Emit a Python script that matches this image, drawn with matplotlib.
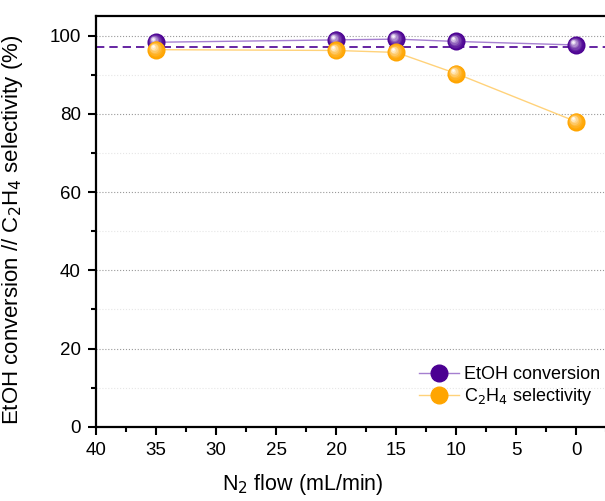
import numpy as np
import matplotlib.pyplot as plt
from matplotlib.ticker import MultipleLocator
from matplotlib.colors import to_rgb
from matplotlib.transforms import offset_copy

plt.rcParams['font.family'] = ['Liberation Sans', 'DejaVu Sans']

n2_flow = [35, 20, 15, 10, 0]
etoh_conv = [98.3, 98.9, 99.1, 98.5, 97.6]
c2h4_sel = [96.4, 96.2, 95.7, 90.3, 78.0]
ref_level = 97.2

purple = '#4b0092'
orange = '#ffa500'


def sphere(ax, x, y, color, size=13, z=5):
    # fake shaded ball: stack of shrinking, lightening discs shifted to the top-left
    base = np.array(to_rgb(color))
    steps = 8
    for i in range(steps):
        f = i / (steps - 1)
        c = base + (1 - base) * f ** 1.6 * 0.95
        s = size * (1 - 0.85 * f)
        dx, dy = -size * 0.18 * f, size * 0.18 * f
        tr = offset_copy(ax.transData, fig=ax.figure, x=dx, y=dy, units='points')
        ax.plot(x, y, 'o', ms=s, color=c, mec='none', transform=tr, zorder=z + i * 0.01)


fig = plt.figure(figsize=(6.05, 5.01), dpi=100)
ax = fig.add_axes([0.159, 0.148, 0.845, 0.82])

ax.axhline(ref_level, color=purple, ls='--', lw=1.2, dashes=(5, 3), zorder=2)
ax.plot(n2_flow, etoh_conv, color='#a57fd0', lw=1.0, zorder=3)
ax.plot(n2_flow, c2h4_sel, color='#ffd27a', lw=1.0, zorder=3)
sphere(ax, n2_flow, c2h4_sel, orange, z=5)
sphere(ax, n2_flow, etoh_conv, purple, z=4)

# legend handles
h1, = ax.plot([], [], 'o-', color='#a57fd0', mfc=purple, mec=purple, ms=12, lw=1.0)
h2, = ax.plot([], [], 'o-', color='#ffd27a', mfc=orange, mec=orange, ms=12, lw=1.0)
ax.legend([h1, h2], ['EtOH conversion', 'C$_2$H$_4$ selectivity'], loc='lower right',
          bbox_to_anchor=(1.0, 0.031), frameon=False, fontsize=13, handlelength=2.2,
          handletextpad=0.3, borderaxespad=0.0, labelspacing=0.15)

ax.set_xlim(40, -2.6)
ax.set_ylim(0, 105)
ax.xaxis.set_major_locator(MultipleLocator(5))
ax.xaxis.set_minor_locator(MultipleLocator(2.5))
ax.yaxis.set_major_locator(MultipleLocator(20))
ax.yaxis.set_minor_locator(MultipleLocator(10))
ax.grid(axis='y', which='major', color='#999999', ls=':', lw=0.8)
ax.grid(axis='y', which='minor', color='#e6e6e6', ls=':', lw=0.8)
ax.set_axisbelow(True)

ax.tick_params(which='both', direction='out', width=1.5, labelsize=13.5, pad=5)
ax.tick_params(which='major', length=6)
ax.tick_params(which='minor', length=3.5)
for side in ['left', 'bottom', 'top']:
    ax.spines[side].set_linewidth(1.6)
ax.spines['right'].set_visible(False)

ax.set_xlabel('N$_2$ flow (mL/min)', fontsize=15.5)
ax.xaxis.set_label_coords(0.405, -0.11)
ax.set_ylabel('EtOH conversion // C$_2$H$_4$ selectivity (%)', fontsize=16)
ax.yaxis.set_label_coords(-0.14, 0.48)

fig.savefig('out.png', dpi=100)
